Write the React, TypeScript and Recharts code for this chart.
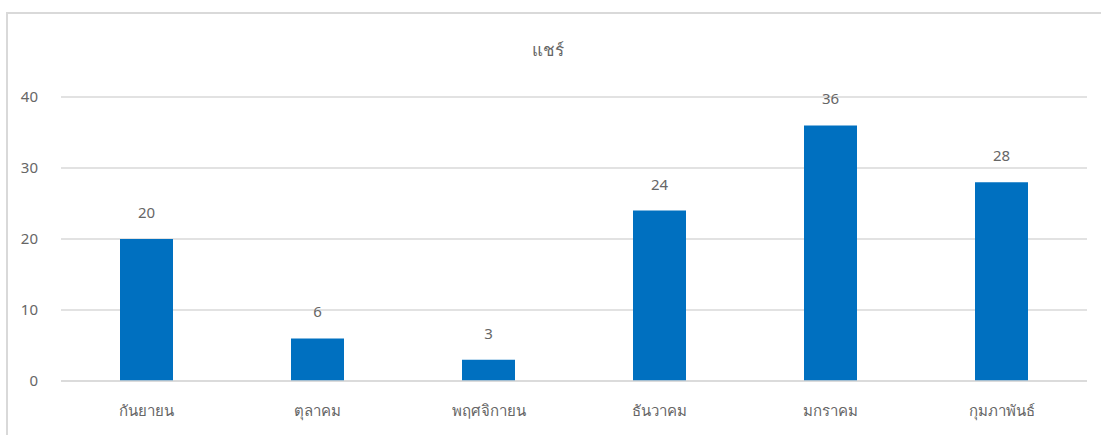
import React from 'react';
import { BarChart, Bar, XAxis, YAxis, CartesianGrid, LabelList } from 'recharts';

// เดือน และ จำนวนแชร์
const months = ['กันยายน', 'ตุลาคม', 'พฤศจิกายน', 'ธันวาคม', 'มกราคม', 'กุมภาพันธ์'];
const shares = [20, 6, 3, 24, 36, 28];
const yTicks = [0, 10, 20, 30, 40];

const data = months.map((m, i) => ({ month: m, value: shares[i] }));

const FONT = "Tahoma, 'Noto Sans', 'DejaVu Sans', sans-serif";
const GREY = '#666666';

export default function App() {
  return (
    <div style={{ position: 'absolute', left: 0, top: 0, width: 1101, height: 435, overflow: 'hidden', background: '#fff', fontFamily: FONT }}>
      {/* กรอบรอบกราฟ */}
      <div style={{
        position: 'absolute', left: 6, top: 12, width: 1120, height: 460,
        border: '2px solid #d9d9d9', boxSizing: 'border-box',
      }} />
      <div style={{
        position: 'absolute', left: 0, top: 36, width: 1096, textAlign: 'center',
        fontSize: 17, color: GREY,
      }}>
        แชร์
      </div>
      <div style={{ position: 'absolute', left: 0, top: 0 }}>
        <BarChart
          width={1101} height={435} data={data}
          margin={{ top: 97, right: 14, left: 0, bottom: 24 }}
          barSize={53}
        >
          <CartesianGrid vertical={false} stroke="#d9d9d9" strokeWidth={1.5} />
          <XAxis
            dataKey="month" height={30} tickLine={false}
            axisLine={{ stroke: '#d9d9d9', strokeWidth: 1.5 }}
            tick={{ fontSize: 15, fill: GREY, fontFamily: FONT }} tickMargin={18}
            interval={0}
          />
          <YAxis
            width={61} domain={[0, 40]} ticks={yTicks} axisLine={false} tickLine={false}
            tick={{ fontSize: 15, fill: GREY, fontFamily: FONT }} tickMargin={17}
          />
          <Bar dataKey="value" fill="#0070C0" isAnimationActive={false}>
            <LabelList dataKey="value" position="top" offset={21} fontSize={15} fill={GREY} fontFamily={FONT} />
          </Bar>
        </BarChart>
      </div>
    </div>
  );
}
